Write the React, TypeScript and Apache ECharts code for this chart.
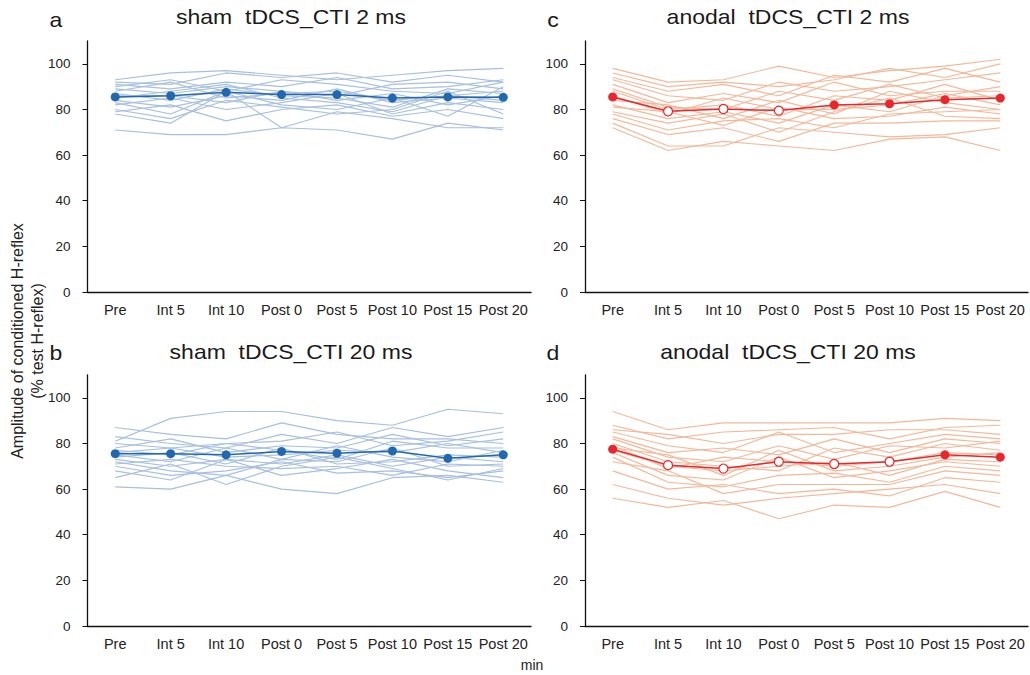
import React, { useEffect, useRef } from "react";
import * as echarts from "echarts";

const categories = ["Pre", "Int 5", "Int 10", "Post 0", "Post 5", "Post 10", "Post 15", "Post 20"];
const yTicks = [0, 20, 40, 60, 80, 100];

// a: sham tDCS_CTI 2 ms
const shamShortSubjects = [
  [93, 96, 97, 95, 93, 95, 97, 98],
  [92, 91, 96, 94, 96, 92, 95, 92],
  [91, 89, 92, 90, 94, 89, 90, 93],
  [90, 93, 88, 93, 91, 88, 87, 92],
  [89, 87, 90, 88, 86, 91, 92, 89],
  [88, 92, 85, 87, 88, 84, 86, 88],
  [87, 84, 89, 86, 85, 81, 89, 87],
  [86, 86, 83, 88, 84, 87, 82, 86],
  [85, 88, 91, 85, 83, 79, 86, 84],
  [84, 81, 86, 84, 89, 83, 85, 83],
  [83, 78, 88, 82, 80, 85, 77, 90],
  [82, 85, 80, 83, 87, 78, 83, 80],
  [80, 76, 84, 81, 78, 80, 88, 78],
  [79, 82, 75, 80, 82, 77, 80, 76],
  [78, 74, 88, 72, 79, 76, 72, 72],
  [71, 69, 69, 72, 71, 67, 74, 71],
];
const shamShortMean = [85.5, 86, 87.5, 86.5, 86.5, 85, 85.5, 85.3];

// b: sham tDCS_CTI 20 ms
const shamLongSubjects = [
  [81, 91, 94, 94, 90, 88, 95, 93],
  [87, 84, 82, 89, 84, 82, 82, 80],
  [83, 80, 78, 84, 80, 87, 83, 87],
  [80, 78, 80, 81, 85, 79, 81, 85],
  [78, 82, 76, 79, 78, 84, 79, 82],
  [77, 75, 80, 77, 73, 81, 78, 78],
  [76, 78, 74, 75, 77, 76, 80, 76],
  [75, 72, 78, 73, 79, 74, 72, 77],
  [74, 76, 71, 78, 71, 72, 75, 74],
  [73, 70, 73, 71, 75, 70, 74, 72],
  [72, 68, 66, 73, 72, 78, 70, 71],
  [71, 73, 70, 69, 70, 66, 71, 70],
  [70, 66, 68, 72, 67, 68, 65, 68],
  [68, 64, 73, 66, 69, 73, 68, 65],
  [65, 71, 62, 70, 74, 69, 64, 69],
  [61, 60, 66, 60, 58, 65, 66, 63],
];
const shamLongMean = [75.5, 75.5, 75, 76.5, 75.7, 76.7, 73.5, 75];

// c: anodal tDCS_CTI 2 ms
const anodalShortSubjects = [
  [98, 92, 93, 99, 94, 97, 99, 102],
  [96, 90, 92, 90, 93, 98, 94, 100],
  [94, 88, 91, 86, 95, 92, 98, 92],
  [93, 86, 84, 92, 88, 90, 93, 96],
  [91, 83, 87, 83, 92, 86, 88, 88],
  [89, 81, 80, 88, 84, 91, 85, 86],
  [88, 80, 82, 77, 86, 84, 91, 84],
  [86, 78, 85, 80, 80, 82, 87, 82],
  [84, 82, 76, 84, 78, 88, 83, 80],
  [82, 76, 79, 74, 82, 79, 86, 90],
  [81, 79, 73, 81, 76, 77, 81, 78],
  [79, 74, 78, 70, 79, 85, 77, 76],
  [78, 71, 75, 76, 72, 78, 79, 80],
  [76, 69, 72, 66, 74, 74, 75, 75],
  [74, 64, 64, 72, 70, 68, 69, 72],
  [72, 62, 66, 64, 62, 67, 68, 62],
];
const anodalShortMean = [85.5, 79.2, 80.2, 79.5, 82, 82.5, 84.3, 85];
const anodalShortSig = [false, true, true, true, false, false, false, false];

// d: anodal tDCS_CTI 20 ms
const anodalLongSubjects = [
  [94, 86, 89, 89, 89, 89, 91, 90],
  [88, 82, 85, 86, 87, 82, 87, 88],
  [86, 84, 80, 84, 84, 86, 86, 84],
  [85, 79, 76, 85, 76, 80, 84, 82],
  [83, 76, 78, 75, 82, 76, 82, 80],
  [82, 74, 72, 79, 73, 79, 78, 81],
  [80, 72, 70, 68, 78, 74, 80, 77],
  [79, 69, 74, 72, 70, 72, 76, 75],
  [78, 75, 66, 77, 68, 70, 74, 76],
  [77, 70, 68, 70, 72, 66, 73, 72],
  [76, 66, 64, 74, 65, 68, 72, 70],
  [74, 63, 61, 66, 67, 63, 70, 68],
  [72, 68, 58, 62, 62, 62, 68, 66],
  [68, 60, 62, 58, 60, 57, 65, 63],
  [62, 56, 53, 56, 58, 60, 62, 58],
  [56, 52, 55, 47, 53, 52, 59, 52],
];
const anodalLongMean = [77.5, 70.5, 69, 72, 71, 72, 75, 74];
const anodalLongSig = [false, true, true, true, true, true, false, false];

const noSig = [false, false, false, false, false, false, false, false];

const yTitleLine1 = "Amplitude of conditioned H-reflex";
const yTitleLine2 = "(% test H-reflex)";

const FONT = "'Liberation Sans', Arial, Helvetica, sans-serif";

export default function App() {
  const ref = useRef<HTMLDivElement>(null);
  useEffect(() => {
    if (!ref.current) return;
    const chart = echarts.init(ref.current, null, { renderer: "svg" });

    const grids = [
      { left: 87.5, top: 41, width: 443.5, height: 251 },
      { left: 87.5, top: 375, width: 443.5, height: 251 },
      { left: 585, top: 41, width: 443, height: 251 },
      { left: 585, top: 375, width: 443, height: 251 },
    ];

    const panels = [
      { subjects: shamShortSubjects, mean: shamShortMean, sig: noSig, light: "#a7bfe0", dark: "#2069b1" },
      { subjects: shamLongSubjects, mean: shamLongMean, sig: noSig, light: "#a7bfe0", dark: "#2069b1" },
      { subjects: anodalShortSubjects, mean: anodalShortMean, sig: anodalShortSig, light: "#f4b899", dark: "#e8262b" },
      { subjects: anodalLongSubjects, mean: anodalLongMean, sig: anodalLongSig, light: "#f4b899", dark: "#e8262b" },
    ];

    const xAxis = grids.map((_, i) => ({
      type: "category",
      gridIndex: i,
      data: categories,
      boundaryGap: true,
      axisLine: { lineStyle: { color: "#111", width: 1.3 } },
      axisTick: { alignWithLabel: true, length: 5, lineStyle: { color: "#111", width: 1 } },
      axisLabel: { fontSize: 14.5, color: "#222", margin: 10, fontFamily: FONT, interval: 0 },
      splitLine: { show: false },
    }));

    const yAxis = grids.map((_, i) => ({
      type: "value",
      gridIndex: i,
      min: 0,
      max: 110,
      axisLine: { show: true, lineStyle: { color: "#111", width: 1.3 } },
      axisTick: { show: true, length: 5, customValues: yTicks, lineStyle: { color: "#111", width: 1 } },
      axisLabel: { fontSize: 13.5, color: "#222", margin: 17, fontFamily: FONT, customValues: yTicks },
      splitLine: { show: false },
    }));

    const series: any[] = [];
    panels.forEach((p, i) => {
      p.subjects.forEach((s) => {
        series.push({
          type: "line",
          xAxisIndex: i,
          yAxisIndex: i,
          data: s,
          symbol: "none",
          silent: true,
          lineStyle: { color: p.light, width: 1.15 },
          z: 2,
        });
      });
      series.push({
        type: "line",
        xAxisIndex: i,
        yAxisIndex: i,
        data: p.mean.map((v, k) =>
          p.sig[k]
            ? { value: v, itemStyle: { color: "#ffffff", borderColor: p.dark, borderWidth: 1.2 } }
            : { value: v, itemStyle: { color: p.dark, borderColor: p.dark, borderWidth: 0 } }
        ),
        symbol: "circle",
        symbolSize: 9,
        lineStyle: { color: p.dark, width: 1.5 },
        itemStyle: { color: p.dark },
        z: 5,
      });
    });

    const titleText = (text: string, x: number, y: number) => ({
      type: "text",
      x,
      y,
      scaleX: 1.15,
      style: {
        text,
        x: 0,
        y: 0,
        textAlign: "center",
        textVerticalAlign: "middle",
        fontSize: 20,
        fontFamily: FONT,
        fill: "#1a1a1a",
      },
    });

    const rotatedText = (text: string, x: number, y: number) => ({
      type: "text",
      x,
      y,
      rotation: Math.PI / 2,
      style: {
        text,
        x: 0,
        y: 0,
        textAlign: "center",
        textVerticalAlign: "middle",
        fontSize: 16,
        fontFamily: FONT,
        fill: "#222",
      },
    });

    const graphic = [
      titleText("sham  tDCS_CTI 2 ms", 291, 17),
      titleText("sham  tDCS_CTI 20 ms", 291, 352),
      titleText("anodal  tDCS_CTI 2 ms", 788, 17),
      titleText("anodal  tDCS_CTI 20 ms", 788, 352),
      titleText("a", 56, 20),
      titleText("b", 56, 353),
      titleText("c", 553, 20),
      titleText("d", 553, 353),
      rotatedText(yTitleLine1, 17, 341),
      rotatedText(yTitleLine2, 37, 341),
      {
        type: "text",
        x: 532,
        y: 665,
        style: {
          text: "min",
          textAlign: "center",
          textVerticalAlign: "middle",
          fontSize: 14,
          fontFamily: FONT,
          fill: "#222",
        },
      },
    ];

    chart.setOption({
      animation: false,
      backgroundColor: "#ffffff",
      textStyle: { fontFamily: FONT },
      grid: grids,
      xAxis,
      yAxis,
      series,
      graphic,
    });

    return () => chart.dispose();
  }, []);

  return (
    <div
      ref={ref}
      style={{ position: "fixed", left: 0, top: 0, width: 1030, height: 675, background: "#fff" }}
    />
  );
}
